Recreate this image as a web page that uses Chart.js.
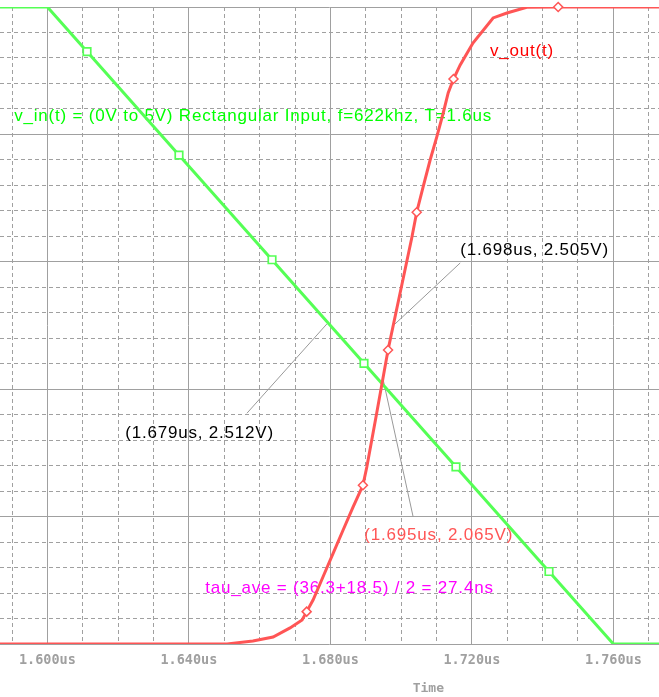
<!DOCTYPE html>
<html><head><meta charset="utf-8">
<script src="https://cdn.jsdelivr.net/npm/chart.js@4.4.1/dist/chart.umd.min.js"></script>
<style>html,body{margin:0;padding:0;background:#fff;overflow:hidden}canvas{display:block}</style>
</head><body>
<canvas id="c" width="659" height="697"></canvas>
<script>
// ---- data ----
const xMajorTicks = [1.600, 1.640, 1.680, 1.720, 1.760];
const xTickLabels = ["1.600us", "1.640us", "1.680us", "1.720us", "1.760us"];
const xMinorTicks = [1.590, 1.610, 1.620, 1.630, 1.650, 1.660, 1.670, 1.690, 1.700, 1.710, 1.730, 1.740, 1.750, 1.770];

// v_in(t)
const vinTime = [1.5866, 1.600, 1.760, 1.7731];
const vinVolt = [5, 5, 0, 0];
const vinMarkTime = [1.6112, 1.6372, 1.6635, 1.6895, 1.7155, 1.7418];
const vinMarkVolt = [4.650, 3.838, 3.016, 2.203, 1.391, 0.569];

// v_out(t)
const voutTime = [1.5866, 1.6508, 1.6581, 1.6638, 1.6686, 1.6720, 1.6733, 1.6751, 1.6779, 1.6808, 1.6836, 1.6864,
  1.6892, 1.6903, 1.6917, 1.6931, 1.6963, 1.7030, 1.7044, 1.7062, 1.7082, 1.7101, 1.7119, 1.7133, 1.7148,
  1.7167, 1.7203, 1.7260, 1.7299, 1.7355, 1.7444, 1.7731];
const voutVolt = [0, 0, 0.024, 0.055, 0.126, 0.188, 0.254, 0.345, 0.526, 0.714, 0.895, 1.075,
  1.246, 1.389, 1.601, 1.813, 2.308, 3.187, 3.389, 3.587, 3.799, 3.982, 4.168, 4.325, 4.435,
  4.545, 4.717, 4.914, 4.953, 4.998, 5.0, 5.0];
const voutMarkTime = [1.6733, 1.6892, 1.6963, 1.7044, 1.7148, 1.7444];
const voutMarkVolt = [0.254, 1.246, 2.308, 3.389, 4.435, 5.0];

// annotation texts
const labelTexts = [
  "v_in(t) = (0V to 5V) Rectangular Input, f=622khz, T=1.6us",
  "v_out(t)",
  "(1.698us, 2.505V)",
  "(1.679us, 2.512V)",
  "(1.695us, 2.065V)",
  "tau_ave = (36.3+18.5) / 2 = 27.4ns"
];
// anchor (time, volt) of each text's left baseline
const labelTime = [1.5906, 1.7251, 1.7167, 1.6220, 1.6896, 1.6446];
const labelVolt = [4.105, 4.615, 3.053, 1.617, 0.816, 0.400];
const labelColors = ["#00ff00", "#ff0000", "#000000", "#000000", "#ff5555", "#ff00ff"];

// leader lines: from (t,v) to marked point (t,v)
const leaderFromTime = [1.6564, 1.7167, 1.7034];
const leaderFromVolt = [1.811, 2.991, 0.997];
const leaderToTime = [1.679, 1.698, 1.695];
const leaderToVolt = [2.512, 2.505, 2.065];

const pts = (xs, ys) => xs.map((x, i) => ({x: x, y: ys[i]}));
const isMajorX = v => xMajorTicks.some(m => Math.abs(m - v) < 1e-7);
const isMajorY = v => Math.abs(v - Math.round(v)) < 1e-6;
const GRID = '#a0a0a0';

const overlay = {
  id: 'overlay',
  beforeDatasetsDraw(chart) {
    const {ctx, scales: {x, y}} = chart;
    ctx.save();
    ctx.strokeStyle = '#999999';
    ctx.lineWidth = 1;
    for (let i = 0; i < leaderFromTime.length; i++) {
      ctx.beginPath();
      ctx.moveTo(x.getPixelForValue(leaderFromTime[i]), y.getPixelForValue(leaderFromVolt[i]));
      ctx.lineTo(x.getPixelForValue(leaderToTime[i]), y.getPixelForValue(leaderToVolt[i]));
      ctx.stroke();
    }
    ctx.font = '17px "Liberation Sans", Arial, sans-serif';
    try { ctx.letterSpacing = '0.8px'; } catch (e) {}
    ctx.textBaseline = 'alphabetic';
    ctx.textAlign = 'left';
    for (let i = 0; i < labelTexts.length; i++) {
      ctx.fillStyle = labelColors[i];
      ctx.fillText(labelTexts[i], x.getPixelForValue(labelTime[i]), y.getPixelForValue(labelVolt[i]));
    }
    ctx.restore();
  },
  afterDraw(chart) {
    const {ctx, chartArea} = chart;
    ctx.save();
    ctx.font = 'bold 13px "DejaVu Sans Mono", monospace';
    ctx.fillStyle = GRID;
    ctx.textAlign = 'center';
    ctx.textBaseline = 'middle';
    ctx.fillText('Time', chartArea.left + chartArea.width * 0.65, chartArea.bottom + 45);
    ctx.restore();
  }
};

new Chart(document.getElementById('c'), {
  type: 'scatter',
  data: {
    datasets: [
      { data: pts(voutMarkTime, voutMarkVolt), showLine: false, pointStyle: 'rectRot', pointRadius: 4.5,
        pointBorderWidth: 1.5, borderColor: '#ff5555', backgroundColor: '#ffffff', clip: false },
      { data: pts(vinMarkTime, vinMarkVolt), showLine: false, pointStyle: 'rect', pointRadius: 5.3,
        pointBorderWidth: 1.7, borderColor: '#55ff55', backgroundColor: '#ffffff', clip: false },
      { data: pts(voutTime, voutVolt), showLine: true, borderColor: '#ff5555', borderWidth: 3,
        pointRadius: 0, tension: 0, fill: false },
      { data: pts(vinTime, vinVolt), showLine: true, borderColor: '#55ff55', borderWidth: 3,
        pointRadius: 0, tension: 0, fill: false }
    ]
  },
  options: {
    responsive: false,
    animation: false,
    devicePixelRatio: 1,
    layout: { autoPadding: false, padding: { top: 7, left: 0, right: 0, bottom: 0 } },
    plugins: { legend: { display: false }, tooltip: { enabled: false } },
    scales: {
      x: {
        type: 'linear', min: 1.5866, max: 1.7729,
        afterBuildTicks: s => { s.ticks = xMajorTicks.concat(xMinorTicks).sort((a, b) => a - b).map(v => ({value: v})); },
        afterFit: s => { s.height = 53; s.paddingLeft = 0; s.paddingRight = 0; },
        ticks: {
          autoSkip: false, maxRotation: 0, minRotation: 0, padding: 8, color: GRID,
          font: { family: '"DejaVu Sans Mono", monospace', size: 13.5, weight: 'bold' },
          callback: v => { const i = xMajorTicks.findIndex(m => Math.abs(m - v) < 1e-7); return i >= 0 ? xTickLabels[i] : ''; }
        },
        grid: { color: GRID, lineWidth: 1, drawTicks: false },
        border: { display: false, dash: c => (c.tick && !isMajorX(c.tick.value)) ? [4, 3] : [] }
      },
      y: {
        min: 0, max: 5,
        afterFit: s => { s.width = 0; },
        ticks: { display: false, stepSize: 0.2 },
        grid: { color: GRID, lineWidth: 1, drawTicks: false },
        border: { display: false, dash: c => (c.tick && !isMajorY(c.tick.value)) ? [4, 3] : [] }
      }
    }
  },
  plugins: [overlay]
});
</script>
</body></html>
